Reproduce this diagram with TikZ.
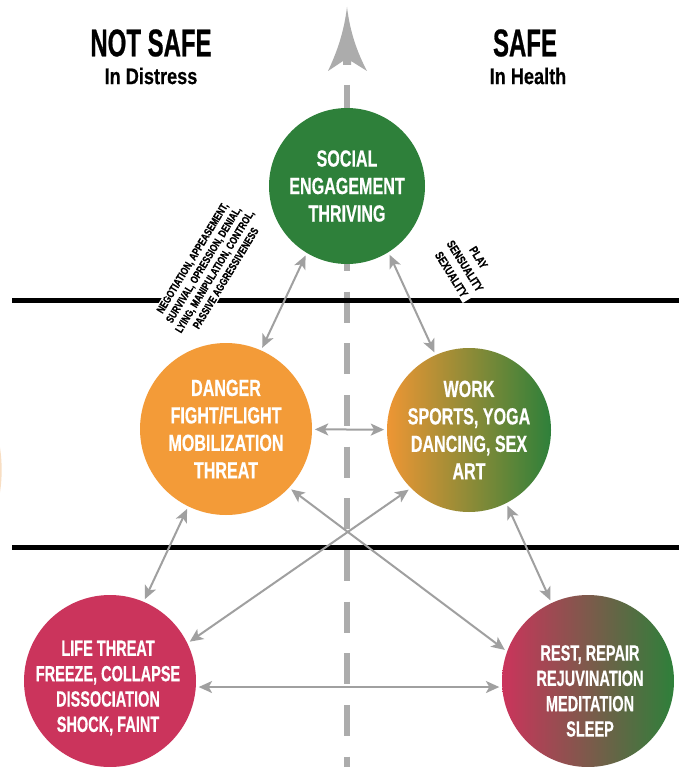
\documentclass[tikz,border=0pt]{standalone}
\usepackage{fontspec}
\setmainfont{Liberation Sans}
\newfontfamily\headfont{Liberation Sans}[FakeStretch=0.62,FakeBold=0.6]
\newfontfamily\subfont{Liberation Sans}[FakeStretch=0.8,FakeBold=0.4]
\newfontfamily\circfont{Liberation Sans}[FakeStretch=0.69,FakeBold=0.5]
\newfontfamily\lowfont{Liberation Sans}[FakeStretch=0.66,FakeBold=0.5]
\newfontfamily\notefont{Liberation Sans}[FakeStretch=0.76,FakeBold=0.5]
\usetikzlibrary{arrows.meta}
\definecolor{socgreen}{RGB}{46,128,58}
\definecolor{dngorange}{RGB}{243,155,56}
\definecolor{wrkorange}{RGB}{238,150,52}
\definecolor{lifred}{RGB}{203,52,92}
\definecolor{linkgray}{RGB}{160,160,160}
\definecolor{axisgray}{RGB}{172,172,172}
\begin{document}
\begin{tikzpicture}[x=0.75pt,y=-0.75pt,
	state/.style={circle,draw=none,inner sep=0pt,text=white,align=center,
		font=\circfont\bfseries\fontsize{17.5}{20.6}\selectfont},
	lowtext/.style={text=white,align=center,inner sep=0pt,
		font=\lowfont\bfseries\fontsize{16.5}{19}\selectfont},
	head/.style={font=\headfont\bfseries\fontsize{29}{34}\selectfont},
	subhead/.style={font=\subfont\bfseries\fontsize{17}{20}\selectfont},
	note/.style={align=center,inner sep=1pt,fill=white,
		font=\notefont\bfseries\fontsize{8.25}{9.75}\selectfont},
	link/.style={draw=linkgray,line width=1.5pt,
		{Stealth[length=10pt,width=9pt,inset=2.5pt]}-{Stealth[length=10pt,width=9pt,inset=2.5pt]},
		shorten <=2pt,shorten >=2pt},
	zone/.style={line width=3.75pt,black}]
	\useasboundingbox (0,0) rectangle (679,767);
	\fill[white] (0,0) rectangle (679,767);
	\fill[dngorange!80!brown,opacity=0.3] (-147,470) circle [radius=111.5pt];

	\coordinate (axtop) at (347,85);
	\coordinate (axbot) at (347,770);
	\draw[axisgray,line width=4.5pt,dash pattern=on 23.25pt off 15.5pt] (axtop) -- (axbot);
	\fill[axisgray] (347,7) .. controls (344,32) and (337,52) .. (328,71) -- (343,61) -- (343,65)
		-- (351,65) -- (351,61) -- (367,71) .. controls (357,52) and (350,32) .. (347,7) -- cycle;

	\coordinate (upl) at (12,300);
	\coordinate (upr) at (679,300);
	\coordinate (lol) at (12,547);
	\coordinate (lor) at (679,547);
	\draw[zone] (upl) -- (upr);
	\draw[zone] (lol) -- (lor);

	\node[head] (notsafe) at (151,43) {NOT SAFE};
	\node[subhead] (distress) at (151,76) {In Distress};
	\node[head] (safe) at (525,43) {SAFE};
	\node[subhead] (health) at (528,76) {In Health};

	\node[note,rotate=58.7] (neg) at (209,268) {NEGOTIATION, APPEASEMENT,\\SURVIVAL, OPRESSION, DENIAL,\\LYING, MANIPULATION, CONTROL,\\PASSIVE AGGRESSIVENESS};
	\node[note,rotate=-58,font=\notefont\bfseries\fontsize{9}{12}\selectfont] (play) at (465,266) {PLAY\\SENSUALITY\\SEXUALITY};

	\node[state,fill=socgreen,minimum size=117pt] (soc) at (347,186) {SOCIAL\\ENGAGEMENT\\THRIVING};
	\node[state,fill=dngorange,minimum size=129pt] (dng) at (226,429) {DANGER\\FIGHT/FLIGHT\\MOBILIZATION\\THREAT};
	\node[state,left color=wrkorange,right color=socgreen,minimum size=123pt] (wrk) at (469,430) {WORK\\SPORTS, YOGA\\DANCING, SEX\\ART};
	\node[state,fill=lifred,minimum size=129pt] (lif) at (110,681) {};
	\node[state,left color=lifred,right color=socgreen,minimum size=129pt] (rst) at (588,681) {};
	\node[lowtext] (liftext) at (108,688) {LIFE THREAT\\FREEZE, COLLAPSE\\DISSOCIATION\\SHOCK, FAINT};
	\node[lowtext] (rsttext) at (590,691) {REST, REPAIR\\REJUVINATION\\MEDITATION\\SLEEP};

	\draw[link] (soc.239) -- (dng.66);
	\draw[link] (soc.302) -- (wrk.114);
	\draw[link] (dng) -- (wrk);
	\draw[link] (dng.244) -- (lif.67);
	\draw[link] (wrk.297) -- (rst.115);
	\draw[link] (dng.317) -- (rst.160);
	\draw[link] (wrk.225) -- (lif.26);
	\draw[link] (lif.-4) -- (rst.184);
\end{tikzpicture}
\end{document}
